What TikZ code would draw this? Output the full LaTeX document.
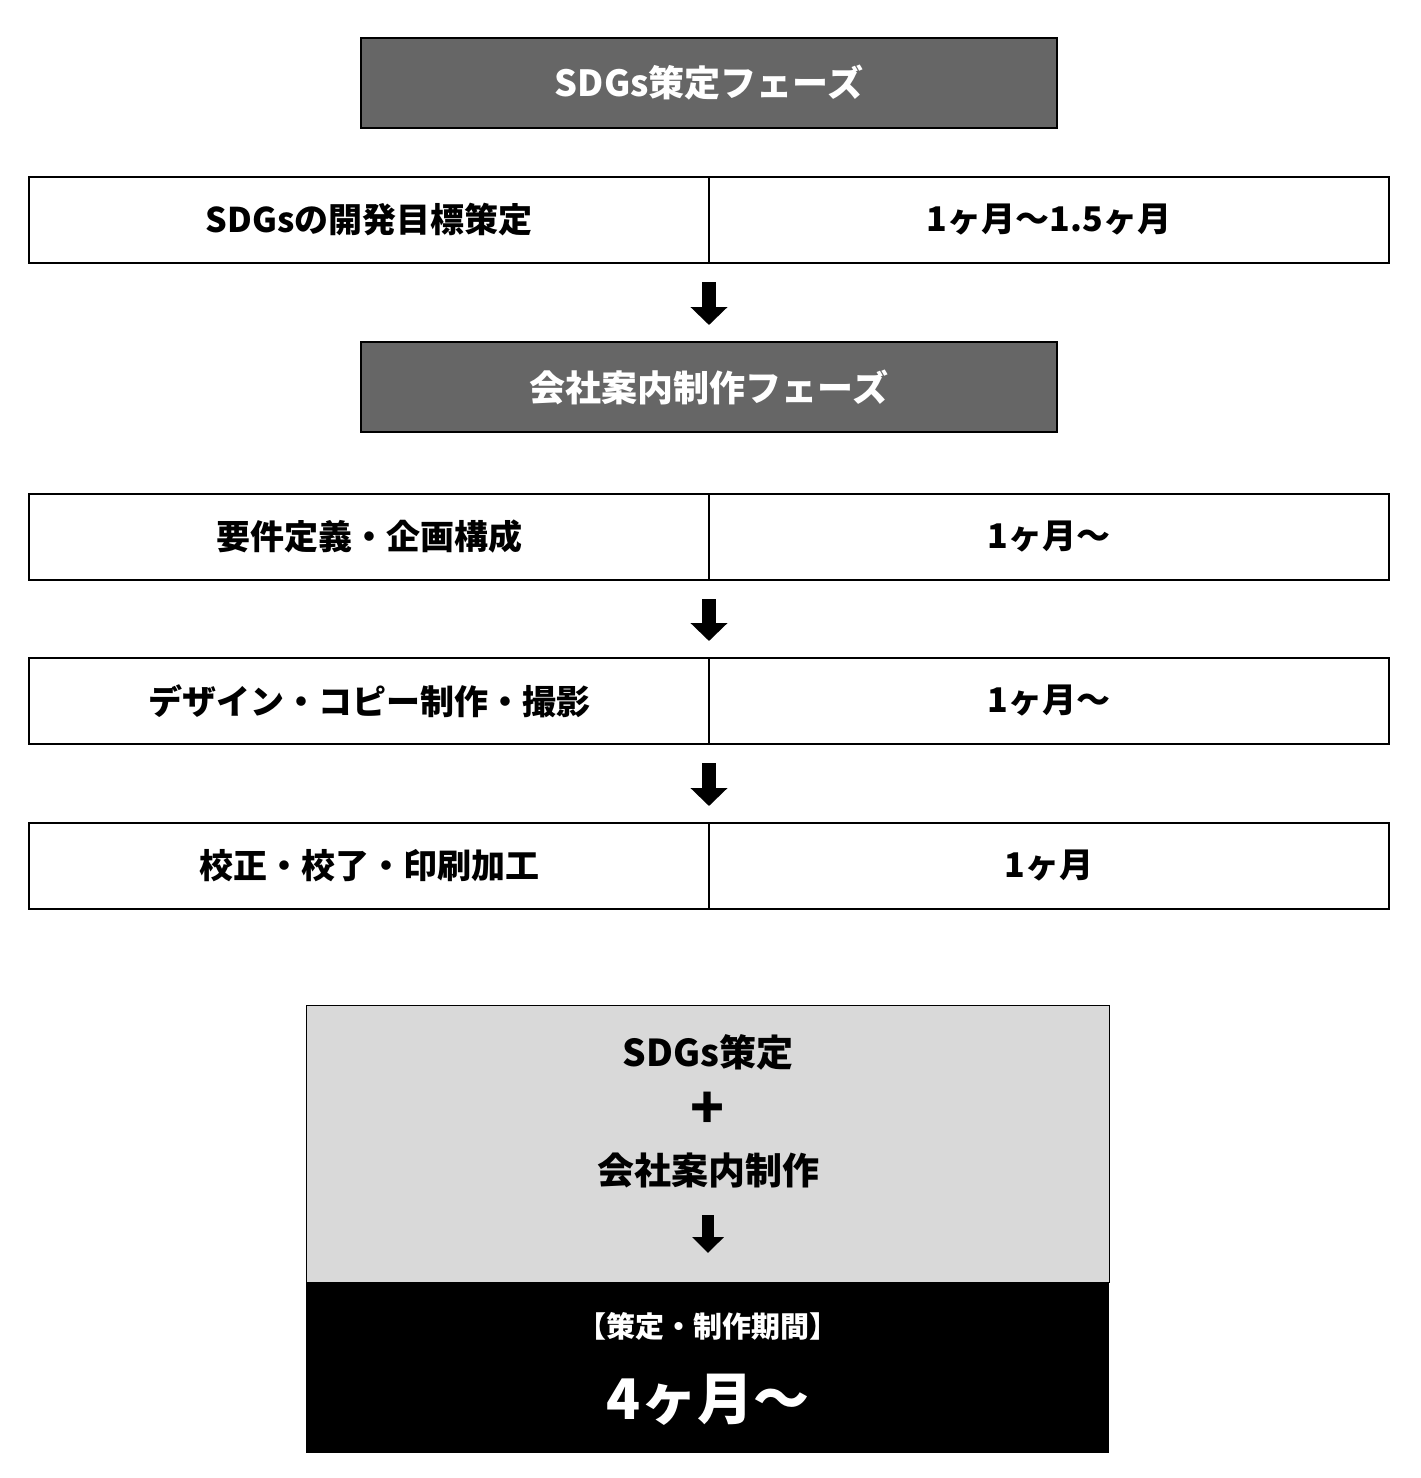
\documentclass[tikz,border=0pt]{standalone}
\usepackage{fontspec}
\setmainfont{Noto Sans CJK JP}
\usepackage{xcolor}
\usetikzlibrary{arrows.meta,positioning}
\definecolor{phasegray}{HTML}{666666}
\definecolor{sumgray}{HTML}{D9D9D9}
\tikzset{>={Triangle[width=18pt,length=9pt]}}

\begin{document}
\begin{tikzpicture}[x=0.5pt,y=-0.5pt,
              phase/.style={draw=black, line width=1pt, fill=phasegray, text=white,
                 font=\bfseries\fontsize{18}{20}\selectfont,
                 minimum width=348pt, minimum height=45pt, inner sep=0pt, outer sep=0pt},
              cell/.style={draw=black, line width=1pt,
                 font=\bfseries\fontsize{17}{19}\selectfont,
                 minimum width=340pt, minimum height=43pt, inner sep=0pt, outer sep=0pt},
              flow/.style={->, line width=7pt, shorten <=9.5pt, shorten >=8.5pt},
              sumtext/.style={font=\bfseries\fontsize{18.5}{20}\selectfont},
             ]
\useasboundingbox (0,0) rectangle (1420,1478);
% SDGs phase
\node[phase] (sdgs) at (709,83) {SDGs策定フェーズ};
\node[cell, anchor=north west] (goal) at (29,177) {SDGsの開発目標策定};
\node[cell, right=0pt of goal] (goalt) {1ヶ月〜1.5ヶ月};
% company guide phase
\node[phase] (guide) at (709,387) {会社案内制作フェーズ};
\node[cell, anchor=north west] (req) at (29,494) {要件定義・企画構成};
\node[cell, right=0pt of req] (reqt) {1ヶ月〜};
\node[cell, anchor=north west] (design) at (29,658) {デザイン・コピー制作・撮影};
\node[cell, right=0pt of design] (designt) {1ヶ月〜};
\node[cell, anchor=north west] (proof) at (29,823) {校正・校了・印刷加工};
\node[cell, right=0pt of proof] (prooft) {1ヶ月};
\draw[flow] (goal.south east) -- (guide.north);
\draw[flow] (req.south east) -- (design.north east);
\draw[flow] (design.south east) -- (proof.north east);
% total
\fill[sumgray] (306,1005) rectangle (1109,1282);
\draw[line width=0.5pt] (306,1005) rectangle (1109,1282);
\fill[black] (306,1282) rectangle (1109,1453);
\node[sumtext] (sumsdgs) at (708,1052) {SDGs策定};
\node[font=\bfseries\fontsize{28}{30}\selectfont, inner sep=0pt] (plus) at (708,1110) {+};
\node[sumtext] (sumwork) at (708,1170) {会社案内制作};
\coordinate (sumtop) at (708,1215);
\coordinate (sumtip) at (708,1253);
\draw[-{Triangle[width=15.5pt,length=8pt]}, line width=6pt] (sumtop) -- (sumtip);
\node[text=white, font=\bfseries\fontsize{14.5}{16}\selectfont] (span) at (708,1326) {【策定・制作期間】};
\node[text=white, font=\bfseries\fontsize{28}{30}\selectfont] (total) at (708,1400) {4ヶ月〜};
\end{tikzpicture}
\end{document}
